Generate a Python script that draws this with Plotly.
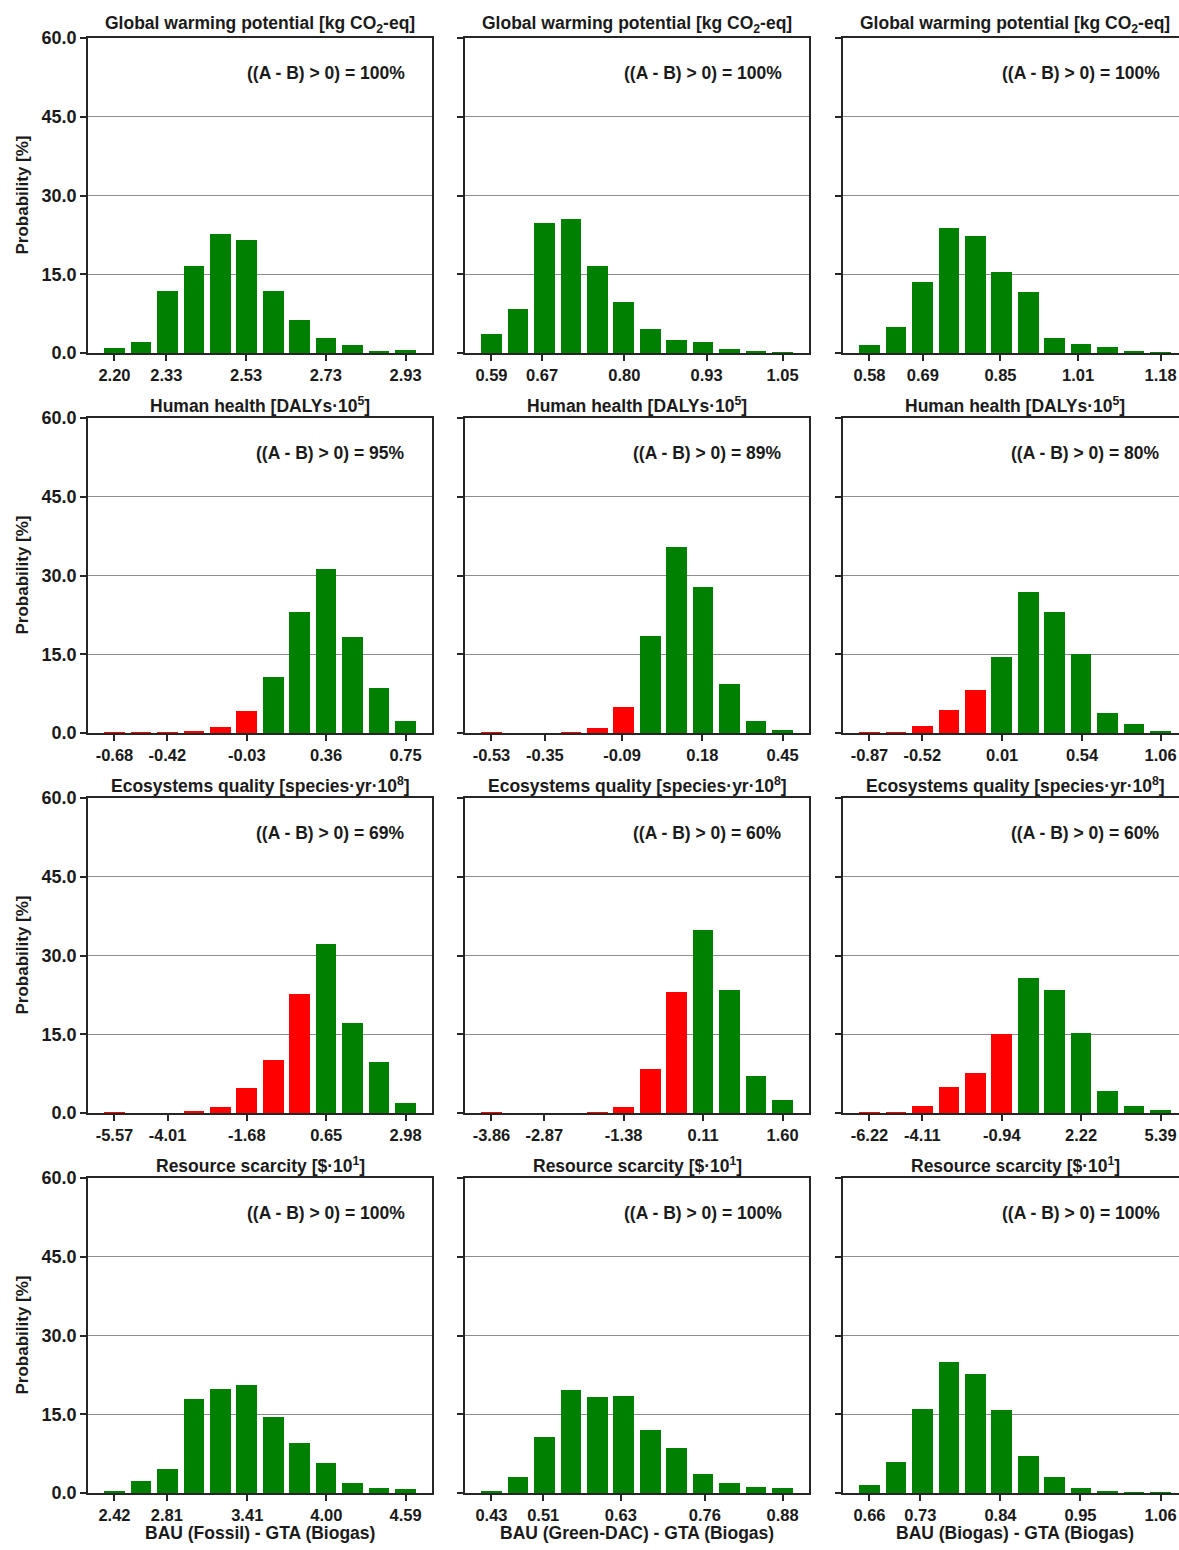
import plotly.graph_objects as go

# ---------------- data ----------------
row_titles = [
    "Global warming potential [kg CO<sub>2</sub>-eq]",
    "Human health [DALYs·10<sup>5</sup>]",
    "Ecosystems quality [species·yr·10<sup>8</sup>]",
    "Resource scarcity [$·10<sup>1</sup>]",
]
col_titles = [
    "BAU (Fossil) - GTA (Biogas)",
    "BAU (Green-DAC) - GTA (Biogas)",
    "BAU (Biogas) - GTA (Biogas)",
]

# probabilities [%] per bin (12 bins each)
gwp_fossil = [0.9, 2.1, 11.9, 16.5, 22.6, 21.5, 11.9, 6.3, 2.9, 1.5, 0.25, 0.6]
gwp_greendac = [3.7, 8.4, 24.8, 25.6, 16.6, 9.7, 4.6, 2.5, 2.1, 0.8, 0.25, 0.05]
gwp_biogas = [1.6, 4.9, 13.6, 23.8, 22.2, 15.4, 11.7, 2.85, 1.7, 1.1, 0.25, 0.1]

hh_fossil = [0.1, 0.05, 0.05, 0.3, 1.1, 4.2, 10.6, 23.1, 31.2, 18.3, 8.6, 2.3]
hh_greendac = [0.1, 0.0, 0.0, 0.05, 0.95, 4.9, 18.5, 35.5, 27.9, 9.3, 2.3, 0.55]
hh_biogas = [0.05, 0.05, 1.3, 4.4, 8.2, 14.5, 26.9, 23.1, 15.0, 3.9, 1.8, 0.3]

eq_fossil = [0.1, 0.0, 0.0, 0.35, 1.2, 4.7, 10.1, 22.7, 32.1, 17.2, 9.8, 2.0]
eq_greendac = [0.1, 0.0, 0.0, 0.0, 0.1, 1.2, 8.4, 23.1, 34.8, 23.4, 7.1, 2.4]
eq_biogas = [0.05, 0.05, 1.4, 5.0, 7.7, 15.1, 25.8, 23.5, 15.2, 4.1, 1.4, 0.6]

rs_fossil = [0.45, 2.2, 4.5, 18.0, 19.9, 20.5, 14.5, 9.5, 5.7, 1.9, 0.9, 0.7]
rs_greendac = [0.45, 3.0, 10.7, 19.6, 18.2, 18.5, 12.0, 8.5, 3.7, 1.9, 1.2, 0.9]
rs_biogas = [1.5, 6.0, 16.0, 25.0, 22.7, 15.8, 7.0, 3.0, 1.0, 0.45, 0.15, 0.1]

# x tick labels (bin centres of bins 0, 2, 5, 8, 11)
gwp_ticks = [["2.20", "2.33", "2.53", "2.73", "2.93"],
             ["0.59", "0.67", "0.80", "0.93", "1.05"],
             ["0.58", "0.69", "0.85", "1.01", "1.18"]]
hh_ticks = [["-0.68", "-0.42", "-0.03", "0.36", "0.75"],
            ["-0.53", "-0.35", "-0.09", "0.18", "0.45"],
            ["-0.87", "-0.52", "0.01", "0.54", "1.06"]]
eq_ticks = [["-5.57", "-4.01", "-1.68", "0.65", "2.98"],
            ["-3.86", "-2.87", "-1.38", "0.11", "1.60"],
            ["-6.22", "-4.11", "-0.94", "2.22", "5.39"]]
rs_ticks = [["2.42", "2.81", "3.41", "4.00", "4.59"],
            ["0.43", "0.51", "0.63", "0.76", "0.88"],
            ["0.66", "0.73", "0.84", "0.95", "1.06"]]

# probability that (A - B) > 0 [%]
gwp_prob = [100, 100, 100]
hh_prob = [95, 89, 80]
eq_prob = [69, 60, 60]
rs_prob = [100, 100, 100]

y_ticks = [0, 15, 30, 45, 60]

series = [
    [gwp_fossil, gwp_greendac, gwp_biogas],
    [hh_fossil, hh_greendac, hh_biogas],
    [eq_fossil, eq_greendac, eq_biogas],
    [rs_fossil, rs_greendac, rs_biogas],
]
ticks = [gwp_ticks, hh_ticks, eq_ticks, rs_ticks]
probs = [gwp_prob, hh_prob, eq_prob, rs_prob]

# ---------------- layout geometry (pixels) ----------------
W, H = 1179, 1550
col_left = [88, 465, 843]
plot_w = 344
row_top = [38, 418, 798, 1178]
plot_h = 315

GREEN = "#008000"
RED = "#FF0000"
FONT = "Liberation Sans, Arial, sans-serif"
TXT = "#1a1a1a"
LINE = "#262626"


def px_x(px):
    return px / W


def px_y(py):
    return 1 - py / H


fig = go.Figure()
annotations = []
layout_axes = {}

for r in range(4):
    for c in range(3):
        k = r * 3 + c + 1
        vals = series[r][c]
        labels = ticks[r][c]
        lo, hi = float(labels[0]), float(labels[-1])
        n = len(vals)
        step = (hi - lo) / (n - 1)
        centers = [lo + step * i for i in range(n)]
        colors = [RED if x < 0 else GREEN for x in centers]
        fig.add_trace(go.Bar(
            x=centers, y=vals, width=0.78 * step,
            marker=dict(color=colors, line=dict(width=0)),
            xaxis=f"x{k}", yaxis=f"y{k}", showlegend=False,
        ))
        left = col_left[c]
        right = min(left + plot_w, W)
        vis = (right - left) / plot_w
        xr = [lo - step, lo - step + 13 * step * vis]
        top = row_top[r]
        bot = top + plot_h
        xname = "xaxis" if k == 1 else f"xaxis{k}"
        yname = "yaxis" if k == 1 else f"yaxis{k}"
        layout_axes[xname] = dict(
            domain=[px_x(left), px_x(right)], anchor=f"y{k}",
            range=xr, tickvals=[float(t) for t in labels], ticktext=labels,
            ticks="outside", ticklen=6, tickwidth=1.5, tickcolor=LINE,
            showline=True, linecolor=LINE, linewidth=1.5, mirror=True,
            showgrid=False, zeroline=False, automargin=False,
            tickfont=dict(family=FONT, size=16.5, color=TXT, weight="bold"),
        )
        layout_axes[yname] = dict(
            domain=[px_y(bot), px_y(top)], anchor=f"x{k}",
            range=[0, 60], tickvals=y_ticks,
            ticktext=[f"{v:.1f}" for v in y_ticks],
            showticklabels=(c == 0),
            ticks="outside", ticklen=6, tickwidth=1.5, tickcolor=LINE,
            showline=True, linecolor=LINE, linewidth=1.5,
            mirror=(c != 2),
            showgrid=True, gridcolor="#8c8c8c", gridwidth=1, zeroline=False,
            automargin=False,
            tickfont=dict(family=FONT, size=18, color=TXT, weight="bold"),
        )
        # panel title
        annotations.append(dict(
            x=px_x(left + plot_w / 2), y=px_y(top - 13), xref="paper", yref="paper",
            text=row_titles[r], showarrow=False, xanchor="center", yanchor="middle",
            font=dict(family=FONT, size=17.5, color=TXT, weight="bold"),
        ))
        # probability text
        annotations.append(dict(
            x=px_x(left + plot_w - 25), y=px_y(top + 35), xref="paper", yref="paper",
            text=f"((A - B) > 0) = {probs[r][c]}%", showarrow=False,
            xanchor="right", yanchor="middle",
            font=dict(family=FONT, size=17.5, color=TXT, weight="bold"),
        ))
        if c == 0:
            annotations.append(dict(
                x=px_x(22), y=px_y(top + plot_h / 2), xref="paper", yref="paper",
                text="Probability [%]", showarrow=False, textangle=-90,
                xanchor="center", yanchor="middle",
                font=dict(family=FONT, size=17, color=TXT, weight="bold"),
            ))
        if r == 3:
            annotations.append(dict(
                x=px_x(left + plot_w / 2), y=px_y(1533), xref="paper", yref="paper",
                text=col_titles[c], showarrow=False,
                xanchor="center", yanchor="middle",
                font=dict(family=FONT, size=17.5, color=TXT, weight="bold"),
            ))

fig.update_layout(
    width=W, height=H, autosize=False,
    margin=dict(l=0, r=0, t=0, b=0, pad=0, autoexpand=False),
    paper_bgcolor="white", plot_bgcolor="white",
    font=dict(family=FONT, size=16, color=TXT, weight="bold"),
    bargap=0, annotations=annotations,
    **layout_axes,
)

fig.write_html(
    "out.html",
    config={"displayModeBar": False},
    post_script="document.body.style.margin='0';document.body.style.overflow='hidden';",
)
